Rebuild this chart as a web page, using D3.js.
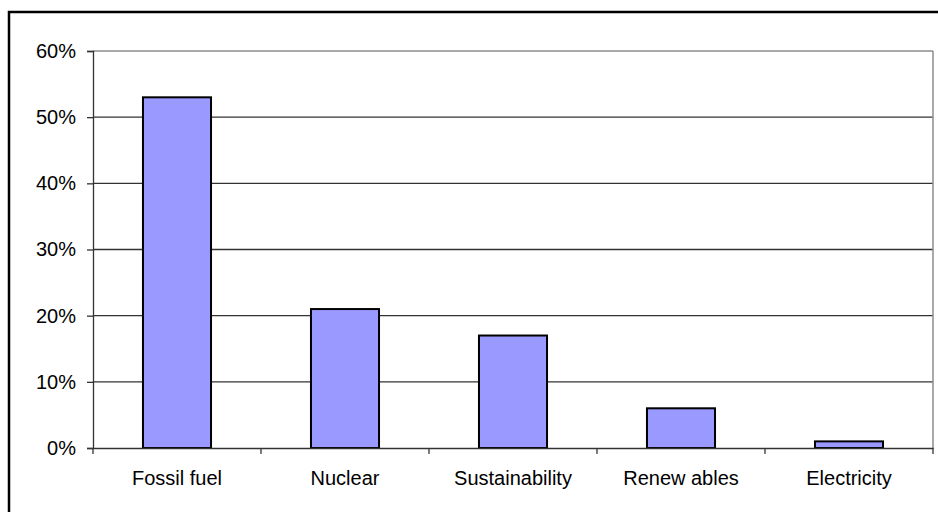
<!DOCTYPE html>
<html>
<head>
<meta charset="utf-8" />
<script src="https://d3js.org/d3.v7.min.js"></script>
<title>Energy topics</title>
<style>
  body { margin: 0; background: #fff; }
  text { font-family: Arial, "Liberation Sans", sans-serif; fill: #000; }
</style>
</head>
<body>
<div id="chart"></div>
<script>
const categories = ["Fossil fuel", "Nuclear", "Sustainability", "Renew ables", "Electricity"];
const values = [0.53, 0.21, 0.17, 0.06, 0.01];
const yTicks = [0, 0.1, 0.2, 0.3, 0.4, 0.5, 0.6];

const width = 938, height = 512;
const margin = { left: 93, right: 5, top: 51, bottom: 64 };

const svg = d3.select("#chart").append("svg")
    .attr("width", width).attr("height", height);

// title, mostly cut off above the picture
svg.append("text")
    .attr("x", 14).attr("y", -5)
    .style("font-family", "'Liberation Serif', 'Times New Roman', serif")
    .style("font-weight", "bold").style("font-size", "22px")
    .text("Figure 2: Energy topics in the research papers, 2008");

// outer frame
svg.append("rect")
    .attr("x", 9).attr("y", 12)
    .attr("width", width + 10).attr("height", height + 10)
    .attr("fill", "none").attr("stroke", "#000").attr("stroke-width", 2.5);

const x = d3.scaleBand()
    .domain(categories)
    .range([margin.left, width - margin.right])
    .paddingInner(0.595).paddingOuter(0.2975);

const y = d3.scaleLinear()
    .domain([0, 0.6])
    .range([height - margin.bottom, margin.top]);

// gridlines
svg.append("g").selectAll("line")
    .data(yTicks.filter(d => d > 0)).join("line")
    .attr("x1", margin.left).attr("x2", width - margin.right)
    .attr("y1", d => y(d)).attr("y2", d => y(d))
    .attr("stroke", d => d === 0.6 ? "#8c8c8c" : "#333").attr("stroke-width", 1.3);

// right border of plot area
svg.append("line")
    .attr("x1", width - margin.right).attr("x2", width - margin.right)
    .attr("y1", margin.top).attr("y2", y(0))
    .attr("stroke", "#8c8c8c").attr("stroke-width", 1.5);

// bars
svg.append("g").selectAll("rect")
    .data(values).join("rect")
    .attr("x", (d, i) => x(categories[i]))
    .attr("y", d => y(d))
    .attr("width", x.bandwidth())
    .attr("height", d => y(0) - y(d))
    .attr("fill", "#9999ff").attr("stroke", "#000").attr("stroke-width", 2);

// y axis
const yAxis = svg.append("g")
    .attr("transform", `translate(${margin.left},0)`)
    .call(d3.axisLeft(y).tickValues(yTicks).tickFormat(d3.format(".0%")).tickSize(6).tickPadding(11));
yAxis.select(".domain").attr("stroke", "#333").attr("stroke-width", 1.3);
yAxis.selectAll(".tick line").attr("stroke", "#333").attr("stroke-width", 1.3);
yAxis.selectAll("text").style("font-size", "20px").attr("fill", "#000");

// x axis
const xAxis = svg.append("g")
    .attr("transform", `translate(0,${y(0)})`)
    .call(d3.axisBottom(x).tickSize(0).tickPadding(23));
xAxis.select(".domain").attr("stroke", "#333").attr("stroke-width", 1.3);
xAxis.selectAll("text").style("font-size", "20px").attr("fill", "#000");

// category boundary ticks
const step = x.step();
svg.append("g").selectAll("line")
    .data(d3.range(categories.length + 1)).join("line")
    .attr("x1", i => margin.left + i * step).attr("x2", i => margin.left + i * step)
    .attr("y1", y(0)).attr("y2", y(0) + 6)
    .attr("stroke", "#333").attr("stroke-width", 1.3);
</script>
</body>
</html>
